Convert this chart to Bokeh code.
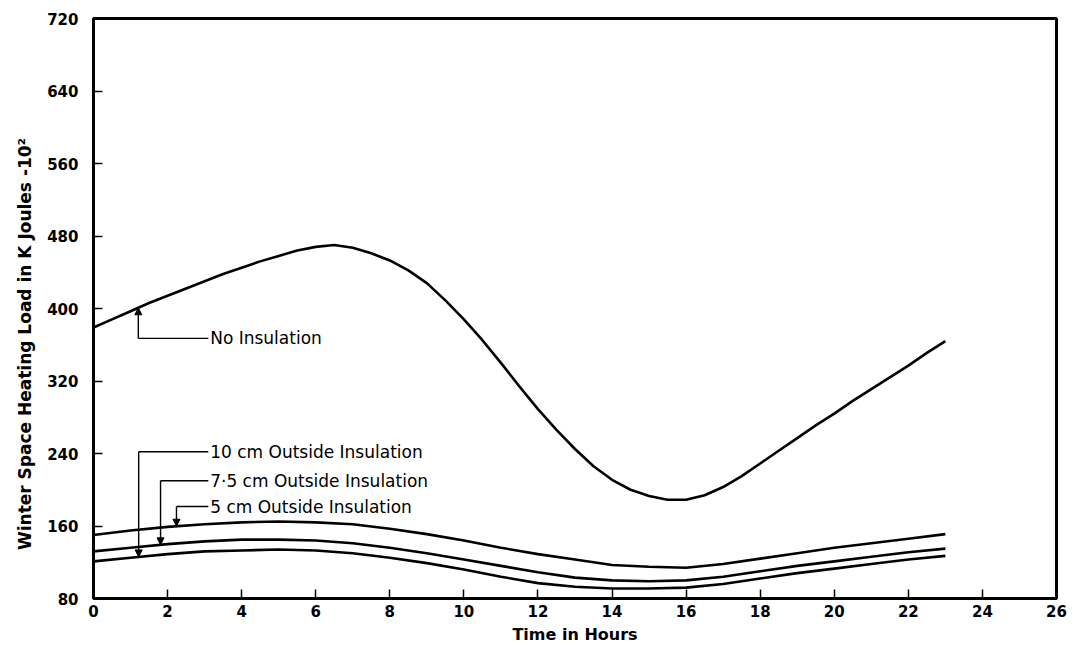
from bokeh.plotting import figure
from bokeh.models import Range1d, FixedTicker, Arrow, NormalHead, ColumnDataSource
from bokeh.core.properties import value
from bokeh.embed import file_html
from bokeh.resources import INLINE
import numpy as np

# Time of day (hours)
hours = list(range(0, 24))
half_hours = [h / 2 for h in range(0, 47)]

# Winter space heating load, K Joules x 10^2
no_insulation = [379, 388, 397, 406, 414, 422, 430, 438, 445, 452, 458, 464,
                 468, 470, 467, 461, 453, 442, 428, 409, 388, 365, 340, 314,
                 289, 266, 245, 226, 211, 200, 193, 189, 189, 194, 203, 215,
                 229, 243, 257, 271, 284, 298, 311, 324, 337, 351, 364]
cm5_outside = [150, 155, 159, 162, 164, 165, 164, 162, 157, 151, 144, 136,
               129, 123, 117, 115, 114, 118, 124, 130, 136, 141, 146, 151]
cm75_outside = [132, 136, 140, 143, 145, 145, 144, 141, 136, 130, 123, 116,
                109, 103, 100, 99, 100, 104, 110, 116, 121, 126, 131, 135]
cm10_outside = [121, 125, 129, 132, 133, 134, 133, 130, 125, 119, 112, 104,
                97, 93, 91, 91, 92, 96, 102, 108, 113, 118, 123, 127]

series = [(half_hours, no_insulation), (hours, cm5_outside),
          (hours, cm75_outside), (hours, cm10_outside)]
series_names = ["No Insulation", "5 cm Outside Insulation",
                "7\u00b75 cm Outside Insulation", "10 cm Outside Insulation"]

x_ticks = list(range(0, 27, 2))
y_ticks = list(range(80, 721, 80))

FONT = "DejaVu Sans"

p = figure(width=1075, height=654, output_backend="svg", toolbar_location=None,
           x_range=Range1d(0, 26), y_range=Range1d(80, 720),
           min_border_left=93, min_border_right=19, min_border_top=18,
           min_border_bottom=56)

p.xgrid.visible = False
p.ygrid.visible = False
p.outline_line_color = "black"
p.outline_line_width = 3
p.background_fill_color = "white"
p.border_fill_color = "white"

for ax in (p.xaxis[0], p.yaxis[0]):
    ax.axis_line_width = 3
    ax.axis_line_color = "black"
    ax.major_tick_in = 9
    ax.major_tick_out = 0
    ax.major_tick_line_width = 1.5
    ax.minor_tick_line_color = None
    ax.major_label_text_font = FONT
    ax.major_label_text_font_style = "bold"
    ax.major_label_text_font_size = "15px"
    ax.major_label_text_color = "black"
    ax.axis_label_text_font = FONT
    ax.axis_label_text_font_style = "bold"
    ax.axis_label_text_color = "black"

p.xaxis.axis_label_text_font_size = "16px"
p.yaxis.axis_label_text_font_size = "17px"
p.xaxis.ticker = FixedTicker(ticks=x_ticks)
p.yaxis.ticker = FixedTicker(ticks=y_ticks)
p.xaxis.axis_label = "Time in Hours"
# trailing no-break spaces nudge the rotated title toward the bottom
p.yaxis.axis_label = "Winter Space Heating Load in K Joules -10\u00b2" + "\u00a0" * 12
p.xaxis.major_label_standoff = 6
p.xaxis.axis_label_standoff = 5
p.yaxis.major_label_standoff = 15
p.yaxis.axis_label_standoff = 9

for xs, ys in series:
    p.line(xs, ys, line_color="black", line_width=2.6, line_join="round")

# Leader lines with arrowheads pointing at each curve
callouts = [
    # (series index, hour of arrow, elbow level, label text)
    (0, 1.21, 367, series_names[0]),
    (3, 1.22, 242, series_names[3]),
    (2, 1.81, 210, series_names[2]),
    (1, 2.24, 181.5, series_names[1]),
]
text_x = 3.15
tx, ty, tt = [], [], []
for idx, hx, level, label in callouts:
    xs, ys = series[idx]
    tip = float(np.interp(hx, xs, ys))
    p.segment(x0=[hx], y0=[level], x1=[text_x - 0.05], y1=[level],
              line_color="black", line_width=1.4)
    p.add_layout(Arrow(end=NormalHead(size=7, fill_color="black", line_color="black"),
                       x_start=hx, y_start=level, x_end=hx, y_end=tip,
                       line_color="black", line_width=1.4))
    tx.append(text_x)
    ty.append(level)
    tt.append(label)

src = ColumnDataSource(dict(x=tx, y=ty, t=tt))
p.text(x="x", y="y", text="t", source=src, text_font=value(FONT),
       text_font_size="17px", text_baseline="middle", text_align="left",
       text_color="black")

open("out.html", "w").write(file_html(p, INLINE))
